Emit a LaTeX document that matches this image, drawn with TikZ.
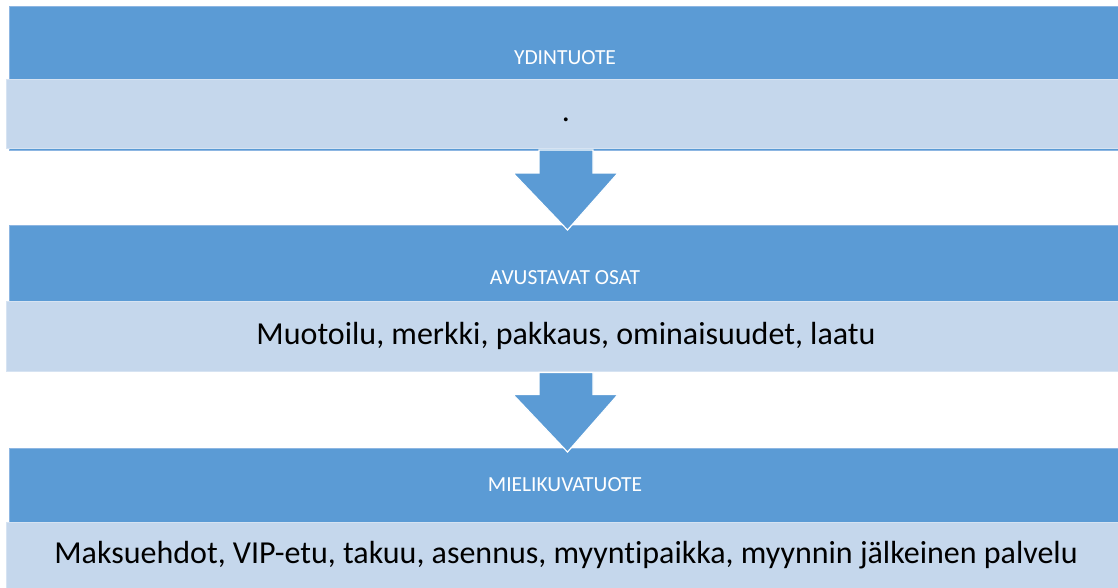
\documentclass[tikz,border=0pt]{standalone}
\usepackage{fontspec}
\setmainfont{Carlito}[Ligatures=NoCommon]
\usetikzlibrary{calc}
\definecolor{darkblue}{HTML}{5B9BD5}
\definecolor{darkedge}{HTML}{8DB6E2}
\definecolor{lightblue}{HTML}{C5D7EC}
\definecolor{lightedge}{HTML}{D6E3F2}
\tikzset{
  darkbar/.style={rectangle, fill=darkblue, draw=darkedge, line width=0.8pt, inner sep=0pt, outer sep=0pt, minimum width=1111pt},
  lightbar/.style={rectangle, fill=lightblue, draw=lightedge, line width=1pt, inner sep=0pt, outer sep=0pt, minimum width=1114pt},
  headtext/.style={text=white, font=\fontsize{21.5}{25}\selectfont, inner sep=0pt},
  bodytext/.style={text=black, font=\fontsize{32}{38}\selectfont, inner sep=0pt},
  blockarrow/.style={fill=darkblue, draw=white, line width=1.2pt, line join=miter}
}
\begin{document}
\begin{tikzpicture}[x=1pt,y=-1pt]
\useasboundingbox (0,0) rectangle (1118,587);
% panel 1
\node[darkbar, minimum height=144pt] (d1) at (564.5,78) {};
\node[lightbar, minimum height=69pt] (l1) at (563,113.5) {};
\node[headtext] (h1) at (565,58) {YDINTUOTE};
\node[bodytext] (b1) at (566,113.5) {\vphantom{Mg}.};
% panel 2
\node[darkbar, minimum height=76pt] (d2) at (564.5,263) {};
\node[lightbar, minimum height=70pt] (l2) at (563,336) {};
\node[headtext] (h2) at (565,278) {AVUSTAVAT OSAT};
\node[bodytext] (b2) at (566,336) {\vphantom{Mg}Muotoilu, merkki, pakkaus, ominaisuudet, laatu};
% panel 3
\node[darkbar, minimum height=74pt] (d3) at (564.5,485) {};
\node[lightbar, minimum height=68pt] (l3) at (563,556) {};
\node[headtext] (h3) at (565,485) {MIELIKUVATUOTE};
\node[bodytext] (b3) at (566,555) {\vphantom{Mg}Maksuehdot, VIP-etu, takuu, asennus, myyntipaikka, myynnin jälkeinen palvelu};
% arrows
\filldraw[blockarrow] ($(l1.south)+(3,2)$) coordinate (t1) ++(-27,0) -- ++(54,0) -- ++(0,23) -- ++(25,0)
  -- ($(d2.north)+(3,5)$) coordinate (tip1) -- ($(t1)+(-53,23)$) -- ($(t1)+(-27,23)$) -- cycle;
\filldraw[blockarrow] ($(l2.south)+(3,1.5)$) coordinate (t2) ++(-27,0) -- ++(54,0) -- ++(0,22) -- ++(25,0)
  -- ($(d3.north)+(3,4)$) coordinate (tip2) -- ($(t2)+(-53,22)$) -- ($(t2)+(-27,22)$) -- cycle;
\end{tikzpicture}
\end{document}
